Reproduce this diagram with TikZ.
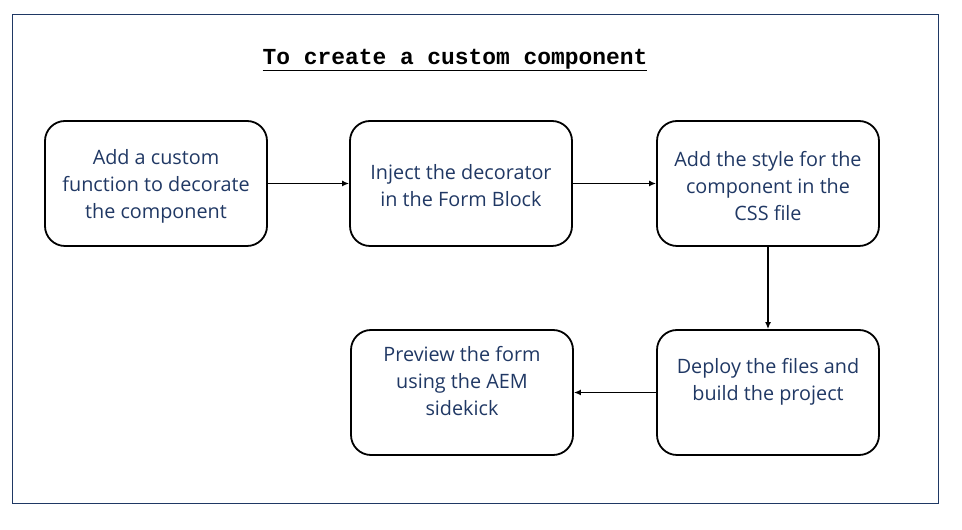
\documentclass[tikz,border=0pt]{standalone}
\usepackage{fontspec}
\setmainfont{Open Sans}
\newfontfamily\titlefont{Liberation Mono}
\usetikzlibrary{arrows.meta}
\definecolor{txtblue}{HTML}{203864}
\definecolor{frameblue}{HTML}{1F3864}
\tikzset{
  stepbox/.style={draw=black, line width=1.8pt, rounded corners=20pt, minimum width=222pt, minimum height=125pt, inner sep=0pt},
  boxtext/.style={align=center, text=txtblue, font=\fontsize{19.8}{27}\selectfont, inner sep=0pt, yshift=-2.5pt},
  conn/.style={-{Latex[length=7pt,width=6pt]}, line width=1.7pt}
}
\begin{document}
\begin{tikzpicture}[x=1pt,y=1pt]
\useasboundingbox (0,0) rectangle (962,530);
\draw[frameblue, line width=1pt] (12.5,26.5) rectangle (938.5,515.5);
\node[font=\titlefont\bfseries\fontsize{22.9}{26}\selectfont, inner sep=0pt] (title) at (455,470) {\underline{To create a custom component}};
\node[stepbox, label={[boxtext]center:{Add a custom\\function to decorate\\the component}}] (b1) at (156,346.5) {};
\node[stepbox, label={[boxtext]center:{Inject the decorator\\in the Form Block}}] (b2) at (461,346.5) {};
\node[stepbox, label={[boxtext]center:{Add the style for the\\component in the\\CSS file}}] (b3) at (768,346.5) {};
\node[stepbox, label={[boxtext, yshift=13.5pt]center:{Preview the form\\using the AEM\\sidekick}}] (b4) at (462,137.5) {};
\node[stepbox, label={[boxtext, yshift=13.5pt]center:{Deploy the files and\\build the project}}] (b5) at (768,137.5) {};
\draw[conn] (b1) -- (b2);
\draw[conn] (b2) -- (b3);
\draw[conn] (b3) -- (b5);
\draw[conn] (b5) -- (b4);
\end{tikzpicture}
\end{document}
